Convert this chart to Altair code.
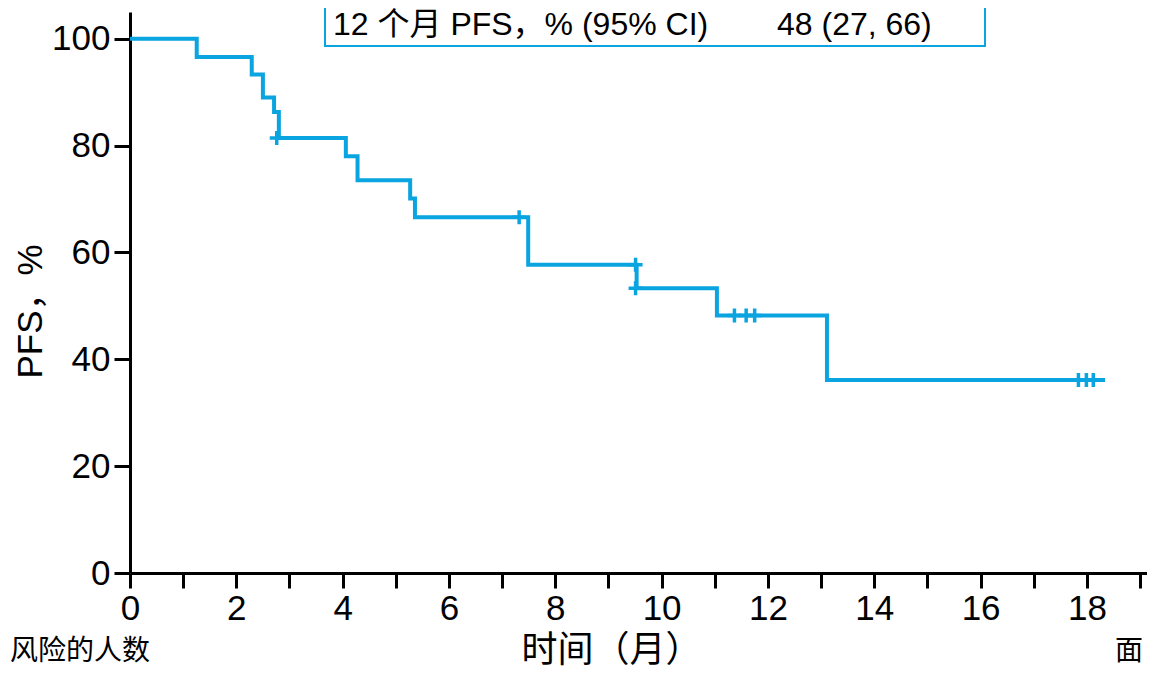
import altair as alt
import pandas as pd

# Kaplan-Meier step curve (time in months, PFS %)
times = [0, 1.255, 2.29, 2.50, 2.71, 2.80, 4.06, 4.28, 5.27, 5.36, 7.49, 9.53, 11.04, 13.11, 18.34]
surv = [100, 96.6, 93.3, 89.0, 86.3, 81.4, 78.0, 73.5, 70.1, 66.6, 57.7, 53.3, 48.2, 36.1, 36.1]

# censored observations
cens_t = [2.76, 7.32, 9.51, 9.51, 11.37, 11.59, 11.75, 17.84, 17.99, 18.12]
cens_s = [81.4, 66.6, 57.7, 53.3, 48.2, 48.2, 48.2, 36.1, 36.1, 36.1]

x_ticks = list(range(0, 20))
y_ticks = [0, 20, 40, 60, 80, 100]

box_label = "12 个月 PFS，% (95% CI)"
box_value = "48 (27, 66)"
x_title = "时间（月）"
y_title = "PFS，%"
risk_label = "风险的人数"
right_label = "面"

FONT = "Liberation Sans, Arial, Noto Sans CJK SC"
BLUE = "#0AA4E0"

curve_df = pd.DataFrame({"t": times, "s": surv})
cens_df = pd.DataFrame({"t": cens_t, "s": cens_s})
one = pd.DataFrame({"a": [0]})

x_enc = alt.X(
    "t:Q",
    scale=alt.Scale(domain=[0, 19.13], nice=False, zero=False),
    axis=alt.Axis(
        values=x_ticks,
        labelExpr="datum.value % 2 == 0 ? datum.label : ''",
        labelOverlap=False,
        labelFlush=False,
        tickSize=15,
        labelPadding=3,
        title=x_title,
        titleX=481,
        titleY=77,
        titleAlign="center",
        titleBaseline="middle",
        titleFontSize=36,
    ),
)
y_enc = alt.Y(
    "s:Q",
    scale=alt.Scale(domain=[0, 105], nice=False),
    axis=alt.Axis(
        values=y_ticks,
        tickSize=16,
        labelPadding=4,
        title=y_title,
        titleX=-100,
        titleY=299,
        titleAngle=-90,
        titleAlign="center",
        titleBaseline="middle",
        titleFontSize=35,
    ),
)

curve = alt.Chart(curve_df).mark_line(
    interpolate="step-after", color=BLUE, strokeWidth=4
).encode(x=x_enc, y=y_enc)

censor = alt.Chart(cens_df).mark_point(
    shape="M-1,0L1,0M0,-1L0,1", size=196, filled=False, color=BLUE,
    strokeWidth=3.5, opacity=1
).encode(x="t:Q", y="s:Q")

box = alt.Chart(one).mark_rect(
    fill="white", stroke=BLUE, strokeWidth=2
).encode(x=alt.value(195), x2=alt.value(855), y=alt.value(-40), y2=alt.value(34))

box_t1 = alt.Chart(one).mark_text(
    align="left", baseline="alphabetic", fontSize=32, font=FONT, color="black"
).encode(x=alt.value(203), y=alt.value(23), text=alt.value(box_label))

box_t2 = alt.Chart(one).mark_text(
    align="left", baseline="alphabetic", fontSize=32, font=FONT, color="black"
).encode(x=alt.value(647), y=alt.value(23), text=alt.value(box_value))

risk_t = alt.Chart(one).mark_text(
    align="right", baseline="top", fontSize=28, font=FONT, color="black"
).encode(x=alt.value(20), y=alt.value(626), text=alt.value(risk_label))

right_t = alt.Chart(one).mark_text(
    align="left", baseline="top", fontSize=28, font=FONT, color="black"
).encode(x=alt.value(985), y=alt.value(626), text=alt.value(right_label))

chart = (
    alt.layer(curve, censor, box, box_t1, box_t2, risk_t, right_t)
    .properties(
        width=1017,
        height=561,
        autosize=alt.AutoSizeParams(type="none"),
        padding={"left": 122, "top": 4, "right": 0, "bottom": 95},
        background="white",
    )
    .configure_view(stroke=None)
    .configure_axis(
        grid=False,
        domainColor="black",
        domainWidth=3,
        tickColor="black",
        tickWidth=3,
        labelFont=FONT,
        labelFontSize=35,
        labelColor="black",
        titleFont=FONT,
        titleFontSize=34,
        titleFontWeight="normal",
        titleColor="black",
    )
)

chart.save("out.html", embed_options={"renderer": "svg", "actions": False})
